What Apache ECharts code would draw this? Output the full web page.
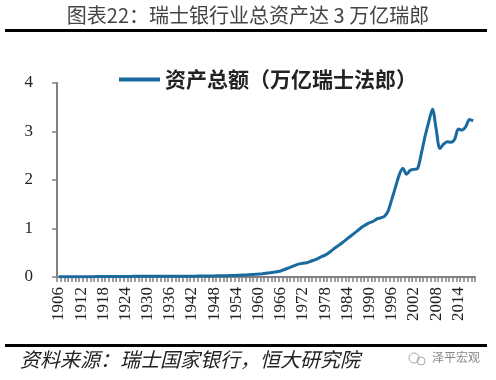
<!DOCTYPE html>
<html><head><meta charset="utf-8">
<script src="https://cdn.jsdelivr.net/npm/echarts@6/dist/echarts.min.js"></script>
<style>html,body{margin:0;padding:0;background:#fff}#c{width:496px;height:380px}</style>
</head><body><div id="c"></div>
<script>
const years = [];
for (let y = 1906; y <= 2018; y++) years.push(String(y));
const totalAssets = [
  0.005,0.005,0.006,0.006,0.007,0.007,0.007,0.007,0.007,0.007,0.008,0.008,0.009,0.010,
  0.010,0.010,0.010,0.011,0.011,0.012,0.013,0.014,0.015,0.016,
  0.016,0.015,0.015,0.015,0.014,0.014,0.014,0.015,0.015,0.015,
  0.015,0.016,0.017,0.018,0.019,0.020,0.021,0.022,0.023,0.024,
  0.025,0.027,0.029,0.031,0.034,0.037,0.041,0.045,0.050,0.055,
  0.061,0.069,0.078,0.087,0.097,0.110,0.125,0.155,0.185,0.215,
  0.245,0.270,0.285,0.295,0.320,0.350,0.380,0.420,0.450,0.500,
  0.560,0.620,0.670,0.730,0.790,0.850,0.910,0.970,1.030,1.080,
  1.120,1.150,1.200,1.220,1.250,1.360,1.600,1.850,2.100,2.240,
  2.120,2.200,2.220,2.240,2.550,2.900,3.200,3.460,3.050,2.650,
  2.740,2.790,2.780,2.840,3.050,3.030,3.100,3.250,3.220
];
const yTicks = [0, 1, 2, 3, 4];
const titleText = '图表22：瑞士银行业总资产达 3 万亿瑞郎';
const seriesName = '资产总额（万亿瑞士法郎）';
const sourceText = '资料来源：瑞士国家银行，恒大研究院';
const watermark = '泽平宏观';

const chart = echarts.init(document.getElementById('c'));
chart.setOption({
  backgroundColor: '#fff',
  animation: false,
  grid: { left: 57, right: 21, top: 83, bottom: 103 },
  legend: {
    left: 114, top: 64,
    icon: 'rect', itemWidth: 41, itemHeight: 4, itemGap: 6,
    textStyle: { fontFamily: 'Noto Sans CJK SC', fontSize: 21, fontWeight: 'bold', color: '#222' },
    data: [seriesName]
  },
  xAxis: {
    type: 'category', data: years, boundaryGap: true,
    axisLine: { lineStyle: { color: '#808080', width: 2 } },
    axisTick: { show: true, interval: 0, length: 5, lineStyle: { color: '#808080', width: 1.5 } },
    axisLabel: { interval: 5, rotate: 90, margin: 10, fontFamily: 'Liberation Serif', fontSize: 17, color: '#222' },
    splitLine: { show: false }
  },
  yAxis: {
    type: 'value', min: yTicks[0], max: yTicks[yTicks.length - 1], interval: 1,
    axisLine: { show: true, lineStyle: { color: '#808080', width: 2 } },
    axisTick: { show: true, length: 5, lineStyle: { color: '#808080', width: 1.5 } },
    axisLabel: { margin: 24, fontFamily: 'Liberation Serif', fontSize: 17, color: '#222' },
    splitLine: { show: false }
  },
  series: [{
    name: seriesName, type: 'line', data: totalAssets,
    showSymbol: false, smooth: 0.3,
    lineStyle: { color: '#1a6aa0', width: 3 },
    itemStyle: { color: '#1a6aa0' }
  }],
  graphic: [
    { type: 'text', left: 'center', top: 5, style: { text: titleText, fontFamily: 'Noto Sans CJK SC', fontSize: 20, fill: '#444' } },
    { type: 'rect', shape: { x: 5, y: 29, width: 482, height: 3 }, style: { fill: '#000' } },
    { type: 'rect', shape: { x: 5, y: 344, width: 482, height: 3 }, style: { fill: '#000' } },
    { type: 'text', left: 20, top: 349, style: { text: sourceText, fontFamily: 'Noto Sans CJK SC', fontSize: 20, fontStyle: 'italic', fill: '#222' } },
    { type: 'circle', shape: { cx: 414, cy: 358, r: 5 }, style: { fill: 'none', stroke: '#aaa', lineWidth: 1 } },
    { type: 'circle', shape: { cx: 421, cy: 361, r: 4 }, style: { fill: 'none', stroke: '#aaa', lineWidth: 1 } },
    { type: 'text', left: 432, top: 351, style: { text: watermark, fontFamily: 'Noto Sans CJK SC', fontSize: 12, fill: '#888' } }
  ]
});
</script></body></html>
